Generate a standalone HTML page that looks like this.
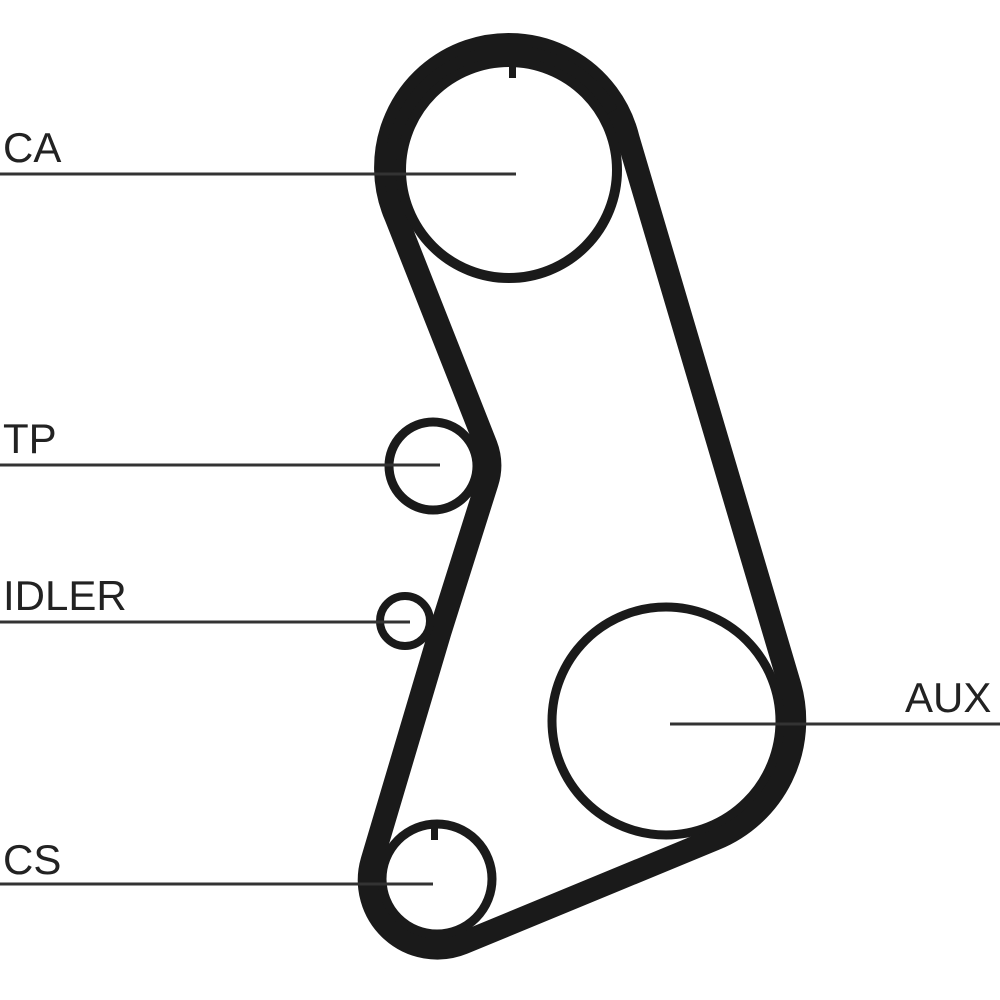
<!DOCTYPE html>
<html><head><style>body{margin:0;background:#fff}svg{display:block}</style></head>
<body>
<svg width="1000" height="1000" viewBox="0 0 1000 1000" xmlns="http://www.w3.org/2000/svg">
<g fill="none" stroke="#1a1a1a">
<path stroke-width="23" stroke-linejoin="round" d="M396,217 A123,123 0 1 1 628,138 L790,686 A128,128 0 0 1 715,839 L463,943 A68,68 0 0 1 372,861 L440,632 L487,483 A57,57 0 0 0 486,445 Z"/>
<path stroke-width="20" d="M396,190 A115,115 0 0 1 609,113"/>
<circle cx="509" cy="170" r="108" stroke-width="10"/>
<circle cx="666" cy="721" r="114" stroke-width="9"/>
<circle cx="437" cy="879" r="55" stroke-width="9"/>
<circle cx="433" cy="466" r="44" stroke-width="9"/>
<circle cx="405" cy="621" r="25" stroke-width="8"/>
<g stroke-width="3" stroke="#333">
<line x1="0" y1="174" x2="516" y2="174"/>
<line x1="0" y1="465" x2="440" y2="465"/>
<line x1="0" y1="622" x2="410" y2="622"/>
<line x1="0" y1="884" x2="433" y2="884"/>
<line x1="670" y1="724" x2="1000" y2="724"/>
</g>
</g>
<rect x="509" y="58" width="7" height="20" fill="#1a1a1a"/>
<rect x="431" y="826" width="7" height="14" fill="#1a1a1a"/>
<g font-family="Liberation Sans, sans-serif" font-size="42" fill="#222">
<text x="3" y="162">CA</text>
<text x="3" y="453">TP</text>
<text x="3" y="610">IDLER</text>
<text x="3" y="874">CS</text>
<text x="905" y="712">AUX</text>
</g>
</svg>
</body></html>
